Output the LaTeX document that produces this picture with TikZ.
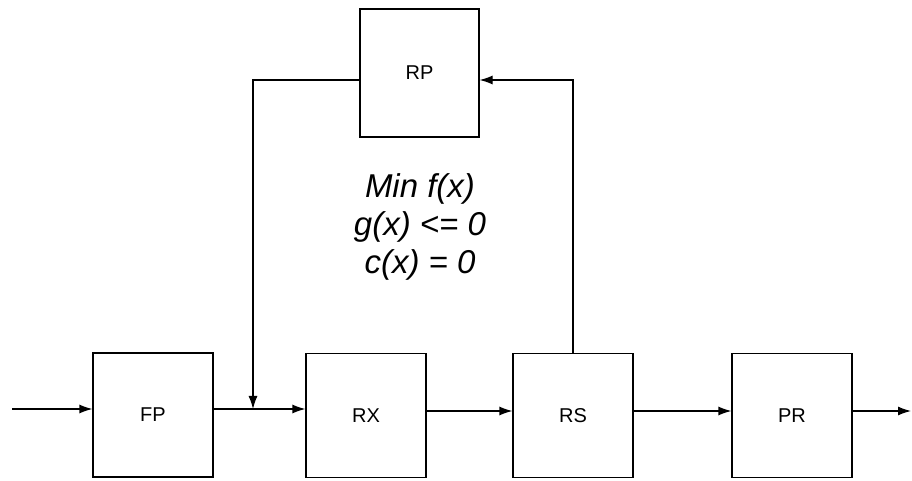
\documentclass[tikz,border=0pt]{standalone}
\usepackage{fontspec}
\setmainfont{Liberation Sans}
\usetikzlibrary{arrows.meta, positioning, calc}

\begin{document}
\begin{tikzpicture}[
    x=0.5pt, y=-0.5pt,
    >={Latex[length=6.5pt, width=4.5pt]},
    font=\fontsize{10}{12}\selectfont,
    unit/.style={draw, line width=0.6pt, minimum width=60pt, minimum height=62pt, inner sep=0pt},
    wire/.style={line width=0.6pt, ->},
    formula/.style={align=center, font=\fontsize{16.5}{19}\selectfont\itshape}
]
\useasboundingbox (0,0) rectangle (912,481);

\node[unit] (FP) at (153,415) {FP};
\node[unit] (RX) at (366,415.5) {RX};
\node[unit] (RS) at (573,415.5) {RS};
\node[unit] (PR) at (792,415.5) {PR};
\node[unit, minimum width=59.5pt, minimum height=64pt] (RP) at (419.5,73) {RP};

\node[formula] (opt) at (420,227) {Min f(x)\\g(x) <= 0\\c(x) = 0};

% main line
\coordinate (in) at (12,409);
\coordinate (jn) at (253,409);
\coordinate (low) at (0,411);
\coordinate (out) at (911,411);
\draw[wire] (in) -- (FP.west |- in);
\draw[wire] (FP.east |- jn) -- (RX.west |- jn);
\draw[wire] (RX.east |- low) -- (RS.west |- low);
\draw[wire] (RS.east |- low) -- (PR.west |- low);
\draw[wire] (PR.east |- low) -- (out);

% recycle loop
\coordinate (up) at (573,80);
\coordinate (back) at (253,80);
\draw[wire] (RS.north) -- (up) -- (RP.east |- up);
\draw[wire] (RP.west |- back) -- (back) -- (jn);

\end{tikzpicture}
\end{document}
